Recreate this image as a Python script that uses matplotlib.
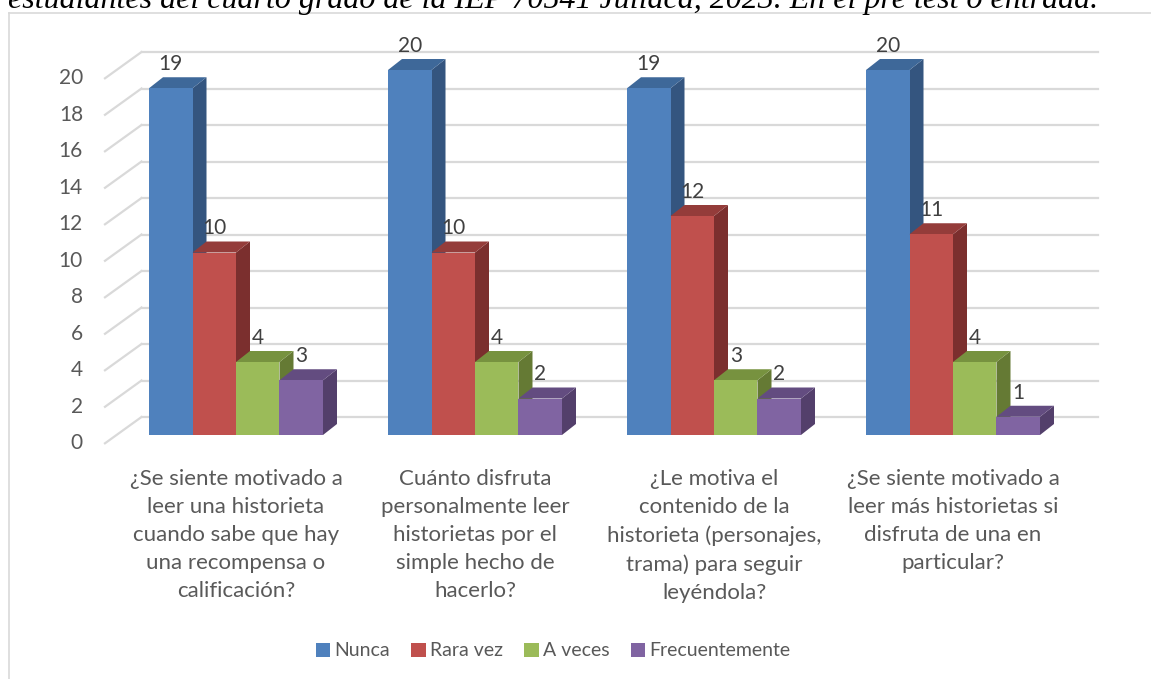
import numpy as np
import matplotlib.pyplot as plt
from matplotlib.patches import Polygon, Rectangle, Patch
from matplotlib.lines import Line2D

categories = ["¿Se siente motivado a\nleer una historieta\ncuando sabe que hay\nuna recompensa o\ncalificación?",
              "Cuánto disfruta\npersonalmente leer\nhistorietas por el\nsimple hecho de\nhacerlo?",
              "¿Le motiva el\ncontenido de la\nhistorieta (personajes,\ntrama) para seguir\nleyéndola?",
              "¿Se siente motivado a\nleer más historietas si\ndisfruta de una en\nparticular?"]
series = ["Nunca", "Rara vez", "A veces", "Frecuentemente"]
nunca = [19, 20, 19, 20]
rara_vez = [10, 10, 12, 11]
a_veces = [4, 4, 3, 4]
frecuentemente = [3, 2, 2, 1]
yticks = list(range(0, 21, 2))

front_c = ['#4F81BD', '#C0504D', '#9BBB59', '#8064A2']
top_c = ['#3E6899', '#943C3A', '#77923F', '#634C80']
side_c = ['#34557F', '#7B2F2E', '#657A34', '#533F6B']
txt_c = '#595959'
grid_c = '#D9D9D9'
font = ['Lato', 'DejaVu Sans']

W, H = 1151, 679
fig = plt.figure(figsize=(W / 100, H / 100), dpi=100)
ax = fig.add_axes([116.5 / W, (H - 435) / H, 956 / W, 365 / H])
ax.set_xlim(-0.5, 3.5)
ax.set_ylim(0, 20)
ax.axis('off')

# pixel -> data unit helpers
px_x = 4.0 / 956
px_y = 20.0 / 365

bdx, bdy = 14 * px_x, 11 * px_y      # bar depth
wdx, wdy = 25 * px_x, 18 * px_y      # back wall
fdx, fdy = -11.5 * px_x, -8.3 * px_y # front floor edge

# gridlines: slanted on the left, horizontal on back wall
for v in yticks:
    ax.add_line(Line2D([-0.5 + fdx, -0.5 + wdx], [v + fdy, v + wdy], color=grid_c, lw=1.6, clip_on=False, zorder=1))
    ax.add_line(Line2D([-0.5 + wdx, 3.5 + wdx], [v + wdy, v + wdy], color=grid_c, lw=1.6, clip_on=False, zorder=1))
    ax.text(-0.5 + fdx - 22 * px_x, v + fdy, str(v), ha='right', va='center',
            fontsize=15, color=txt_c, family=font)

data = np.array([nunca, rara_vez, a_veces, frecuentemente])
bw = 0.182
z = 2
for i in range(len(categories)):
    for k in range(len(series)):
        v = data[k, i]
        x0 = i - 0.364 + k * bw
        x1 = x0 + bw
        side = Polygon([(x1, 0), (x1 + bdx, bdy), (x1 + bdx, v + bdy), (x1, v)],
                       closed=True, fc=side_c[k], ec='none', clip_on=False, zorder=z)
        top = Polygon([(x0, v), (x0 + bdx, v + bdy), (x1 + bdx, v + bdy), (x1, v)],
                      closed=True, fc=top_c[k], ec='none', clip_on=False, zorder=z)
        front = Rectangle((x0, 0), bw, v, fc=front_c[k], ec='none', clip_on=False, zorder=z)
        for p in (side, top, front):
            ax.add_patch(p)
        ax.text(x0 + bw / 2, v + bdy + 13 * px_y, str(v), ha='center', va='center',
                fontsize=15, color='#404040', family=font, zorder=10)
        z += 1

for i, c in enumerate(categories):
    ax.text(i, -34 * px_y, c, ha='center', va='top', fontsize=16, color=txt_c,
            family=font, linespacing=1.5)

handles = [Patch(fc=front_c[k], ec='none') for k in range(len(series))]
fig.legend(handles, series, loc='center', bbox_to_anchor=(553 / W, 1 - 651 / H), ncol=4,
           frameon=False, prop={'family': font, 'size': 14}, labelcolor=txt_c,
           handlelength=0.75, handleheight=0.75, handletextpad=0.2, columnspacing=1.1)

# chart border
fig.add_artist(Line2D([9 / W, 1], [1 - 13 / H, 1 - 13 / H], color=grid_c, lw=1.2))
fig.add_artist(Line2D([9 / W, 9 / W], [0, 1 - 13 / H], color=grid_c, lw=1.2))

fig.text(8 / W, 1 - 8 / H, "estudiantes del cuarto grado de la IEP 70541 Juliaca, 2023. En el pre test o entrada.",
         fontsize=23, fontstyle='italic', family='Liberation Serif', va='baseline', ha='left', color='black')

fig.savefig('out.png', dpi=100)
